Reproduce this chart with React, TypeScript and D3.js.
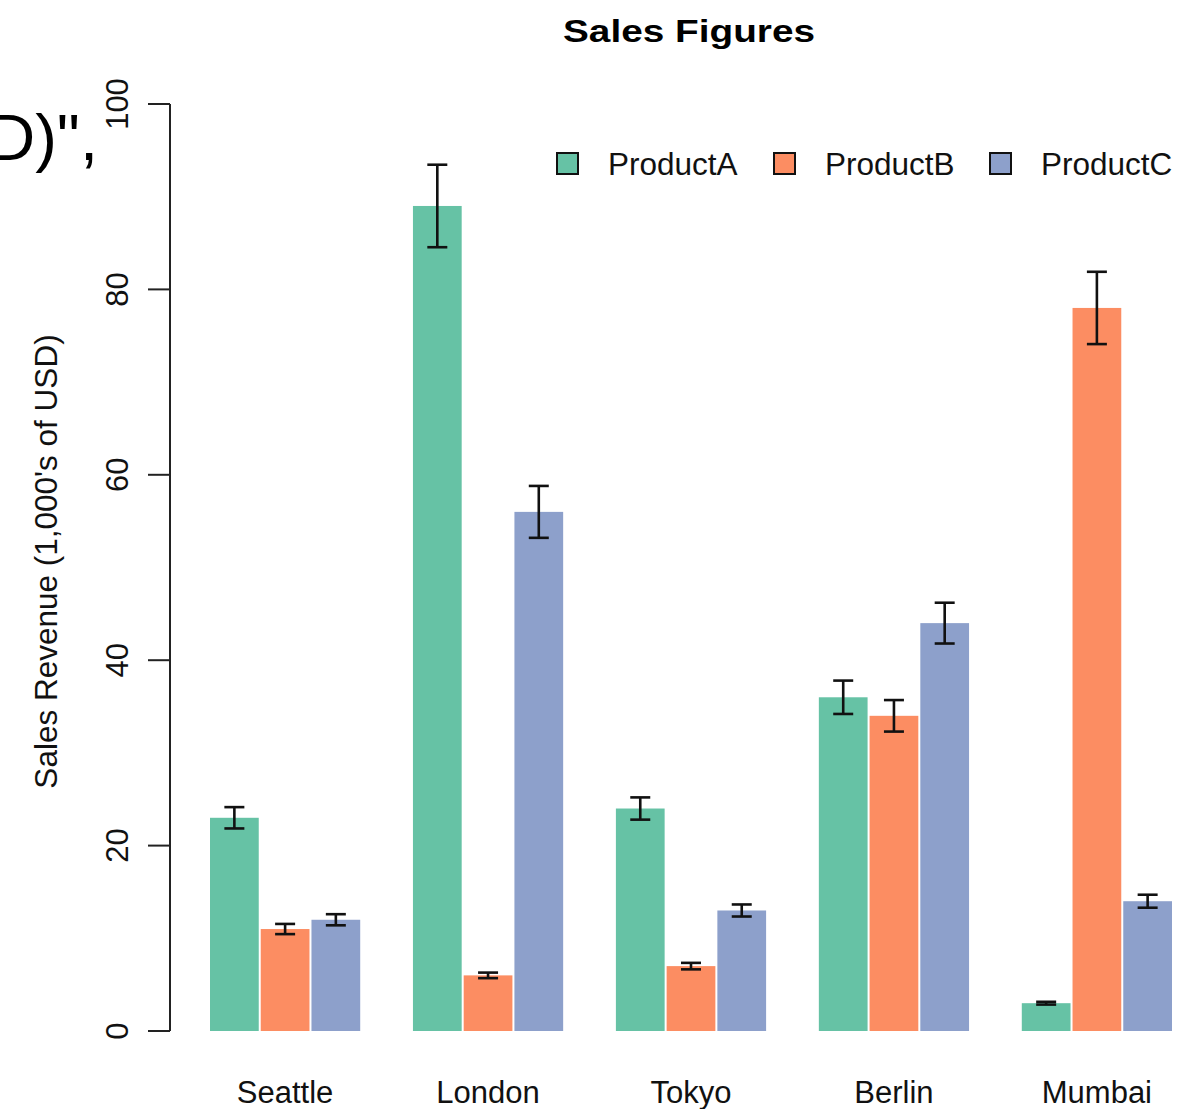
import React from "react";
import * as d3 from "d3";

const cities = ["Seattle", "London", "Tokyo", "Berlin", "Mumbai"];
const products = ["ProductA", "ProductB", "ProductC"];
const productA = [23, 89, 24, 36, 3];
const productB = [11, 6, 7, 34, 78];
const productC = [12, 56, 13, 44, 14];
const errorA = [1.15, 4.45, 1.2, 1.8, 0.15];
const errorB = [0.55, 0.3, 0.35, 1.7, 3.9];
const errorC = [0.6, 2.8, 0.65, 2.2, 0.7];
const yTicks = [0, 20, 40, 60, 80, 100];
const colors = ["#66C2A5", "#FC8D62", "#8DA0CB"];

const W = 1201;
const H = 1109;
const FONT = "'Liberation Sans', Arial, Helvetica, sans-serif";

export default function App() {
  const values = [productA, productB, productC];
  const errors = [errorA, errorB, errorC];

  const x0 = d3.scaleBand<string>().domain(cities).range([209, 1173]).paddingInner(0.25).paddingOuter(0);
  const x1 = d3.scaleBand<string>().domain(products).range([0, x0.bandwidth()]).padding(0);
  const y = d3.scaleLinear().domain([0, 100]).range([1031, 104]);

  const axisX = 170;

  return (
    <svg
      width={W}
      height={H}
      style={{ position: "absolute", left: 0, top: 0, background: "#fff" }}
      fontFamily={FONT}
    >
      <rect x={0} y={0} width={W} height={H} fill="#fff" />

      {/* overflow string at top-left */}
      <text x={98} y={160} fontSize={65} textAnchor="end" fill="#000">
        {"Sales Revenue (1,000's of USD)\","}
      </text>

      {/* title */}
      <text x={689} y={42} fontSize={31} fontWeight="bold" textAnchor="middle" textLength={252} lengthAdjust="spacingAndGlyphs" fill="#000">
        Sales Figures
      </text>

      {/* bars */}
      {cities.map((c, ci) => (
        <g key={c} transform={`translate(${x0(c)},0)`}>
          {products.map((p, pi) => {
            const v = values[pi][ci];
            const bx = x1(p)!;
            return (
              <rect
                key={p}
                x={bx + 1}
                y={y(v)}
                width={x1.bandwidth() - 2}
                height={y(0) - y(v)}
                fill={colors[pi]}
              />
            );
          })}
          {products.map((p, pi) => {
            const v = values[pi][ci];
            const e = errors[pi][ci];
            const cx = x1(p)! + x1.bandwidth() / 2;
            return (
              <g key={p + "-err"} stroke="#111" strokeWidth={2.6} fill="none">
                <line x1={cx} x2={cx} y1={y(v + e)} y2={y(v - e)} />
                <line x1={cx - 10} x2={cx + 10} y1={y(v + e)} y2={y(v + e)} />
                <line x1={cx - 10} x2={cx + 10} y1={y(v - e)} y2={y(v - e)} />
              </g>
            );
          })}
        </g>
      ))}

      {/* y axis */}
      <g stroke="#222" strokeWidth={2} fill="none">
        <line x1={axisX} x2={axisX} y1={y(0)} y2={y(100)} />
        {yTicks.map((t) => (
          <line key={t} x1={axisX - 22} x2={axisX} y1={y(t)} y2={y(t)} />
        ))}
      </g>
      {yTicks.map((t) => (
        <text
          key={t}
          transform={`translate(128,${y(t)}) rotate(-90)`}
          textAnchor="middle"
          fontSize={31}
          fill="#111"
        >
          {t}
        </text>
      ))}

      {/* y axis title */}
      <text
        transform={`translate(57,${(y(0) + y(100)) / 2 - 6}) rotate(-90)`}
        textAnchor="middle"
        fontSize={31.5}
        fill="#111"
      >
        Sales Revenue (1,000's of USD)
      </text>

      {/* category labels */}
      {cities.map((c) => (
        <text key={c} x={x0(c)! + x0.bandwidth() / 2} y={1103} textAnchor="middle" fontSize={31} fill="#111">
          {c}
        </text>
      ))}

      {/* legend */}
      {products.map((p, i) => {
        const lx = [557, 774, 990][i];
        return (
          <g key={p}>
            <rect x={lx} y={153} width={21} height={21} fill={colors[i]} stroke="#111" strokeWidth={2} />
            <text x={lx + 51} y={175} fontSize={31.5} fill="#111">
              {p}
            </text>
          </g>
        );
      })}
    </svg>
  );
}
